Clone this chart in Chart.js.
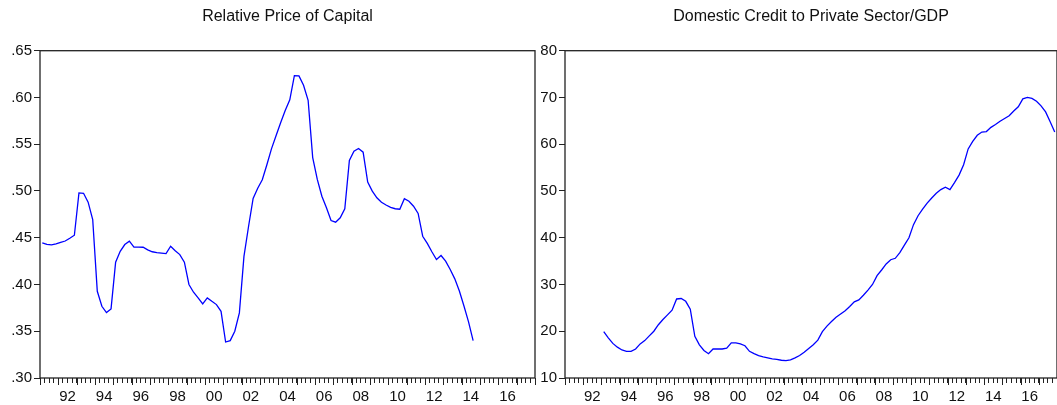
<!DOCTYPE html>
<html>
<head>
<meta charset="utf-8">
<script src="https://cdn.jsdelivr.net/npm/chart.js@4.4.1/dist/chart.umd.min.js"></script>
<style>
html, body { margin: 0; padding: 0; background: #fff; overflow: hidden; }
body { width: 1057px; height: 405px; position: relative; }
canvas { position: absolute; top: 0; }
#left { left: 0; }
#right { left: 537px; }
</style>
</head>
<body>
<canvas id="left" width="540" height="405"></canvas>
<canvas id="right" width="525" height="405"></canvas>
<script>
// quarterly data, first observation is Q1 of the start year
const priceStart = 1991;
const relPrice = [
  .4445, .4428, .4424, .4434, .445, .4465, .4495, .4527, .498, .4975,
  .488, .4695, .3927, .3767, .370, .3739, .4238, .4355, .4427, .4463,
  .440, .440, .4398, .437, .435, .434, .4335, .4331, .4409, .436,
  .432, .4238, .400, .3917, .3857, .3792, .3857, .382, .3785, .3713,
  .3385, .340, .350, .3696, .430, .462, .492, .503, .512, .528,
  .545, .559, .573, .586, .5975, .6234, .623, .613, .597, .5357,
  .5123, .4944, .482, .4684, .4666, .4713, .481, .5327, .5426, .5455,
  .5415, .5095, .4998, .4927, .488, .485, .4825, .481, .4805, .4917,
  .489, .4837, .476, .4516, .444, .435, .4267, .431, .4249, .416,
  .406, .393, .377, .360, .340
];

const creditStart = 1993;
const credit = [
  19.9, 18.6, 17.4, 16.6, 16.0, 15.7, 15.7, 16.2, 17.3, 18.0,
  19.0, 20.0, 21.4, 22.5, 23.5, 24.5, 26.9, 27.0, 26.4, 24.7,
  18.9, 17.1, 15.9, 15.2, 16.2, 16.2, 16.2, 16.4, 17.5, 17.5,
  17.3, 16.9, 15.7, 15.2, 14.8, 14.5, 14.3, 14.1, 14.0, 13.8,
  13.7, 13.9, 14.3, 14.8, 15.5, 16.3, 17.1, 18.1, 19.9, 21.1,
  22.1, 23.0, 23.7, 24.4, 25.3, 26.3, 26.7, 27.7, 28.8, 30.0,
  31.9, 33.1, 34.4, 35.3, 35.6, 36.8, 38.4, 40.0, 42.8, 44.7,
  46.1, 47.4, 48.5, 49.5, 50.3, 50.8, 50.3, 51.8, 53.4, 55.6,
  59.0, 60.6, 61.9, 62.6, 62.7, 63.6, 64.2, 64.9, 65.5, 66.1,
  67.1, 68.0, 69.7, 70.0, 69.8, 69.2, 68.2, 66.9, 64.8, 62.6
];

const yearLabels = ['92', '94', '96', '98', '00', '02', '04', '06', '08', '10', '12', '14', '16'];
const priceTicks = ['.30', '.35', '.40', '.45', '.50', '.55', '.60', '.65'];
const creditTicks = ['10', '20', '30', '40', '50', '60', '70', '80'];

const family = "'Liberation Sans', Arial, sans-serif";

function toPoints(start, arr) {
  return arr.map((v, i) => ({ x: start + i / 4 + 0.125, y: v }));
}

// box around the plot and the longer year ticks
const frame = {
  id: 'frame',
  afterDraw(chart) {
    const { ctx, chartArea: a, scales: { x } } = chart;
    ctx.save();
    ctx.strokeStyle = '#222';
    ctx.lineWidth = 1.3;
    ctx.strokeRect(a.left, a.top, a.right - a.left, a.bottom - a.top);
    ctx.lineWidth = 1;
    ctx.beginPath();
    for (let yr = Math.ceil(x.min); yr <= x.max; yr++) {
      const px = Math.round(x.getPixelForValue(yr)) + 0.5;
      ctx.moveTo(px, a.bottom);
      ctx.lineTo(px, a.bottom + 7);
    }
    ctx.stroke();
    ctx.restore();
  }
};

function makeChart(id, title, points, yMin, yMax, yStep, yLabels, yWidth, padRight) {
  return new Chart(document.getElementById(id), {
    type: 'line',
    data: {
      datasets: [{
        data: points,
        borderColor: '#0000ff',
        borderWidth: 1.3,
        pointRadius: 0,
        tension: 0,
        fill: false
      }]
    },
    options: {
      responsive: false,
      animation: false,
      devicePixelRatio: 1,
      layout: { padding: { right: padRight } },
      plugins: {
        legend: { display: false },
        tooltip: { enabled: false },
        title: {
          display: true,
          text: title,
          fullSize: false,
          color: '#111',
          font: { family: family, size: 16, weight: 'normal' },
          padding: { top: 7, bottom: 24.5 }
        }
      },
      scales: {
        x: {
          type: 'linear',
          min: 1991,
          max: 2018,
          afterFit: s => { s.height = 27; },
          grid: { drawOnChartArea: false, tickLength: 5, color: '#222' },
          border: { display: false },
          ticks: {
            stepSize: 0.25,
            autoSkip: false,
            maxRotation: 0,
            color: '#111',
            padding: 5,
            font: { family: family, size: 15 },
            callback: v => {
              const yr = Math.floor(v + 1e-6);
              if (Math.abs(v - yr - 0.5) > 1e-6) return '';
              const lab = String(yr).slice(2);
              return yearLabels.includes(lab) ? lab : '';
            }
          }
        },
        y: {
          min: yMin,
          max: yMax,
          afterFit: s => { s.width = yWidth; },
          grid: { drawOnChartArea: false, tickLength: 6, color: '#222' },
          border: { display: false },
          ticks: {
            stepSize: yStep,
            color: '#111',
            padding: 2,
            font: { family: family, size: 15 },
            callback: v => yLabels[Math.round((v - yMin) / yStep)]
          }
        }
      }
    },
    plugins: [frame]
  });
}

makeChart('left', 'Relative Price of Capital', toPoints(priceStart, relPrice),
  0.30, 0.65, 0.05, priceTicks, 40, 3);
makeChart('right', 'Domestic Credit to Private Sector/GDP', toPoints(creditStart, credit),
  10, 80, 10, creditTicks, 28, 0);
</script>
</body>
</html>
